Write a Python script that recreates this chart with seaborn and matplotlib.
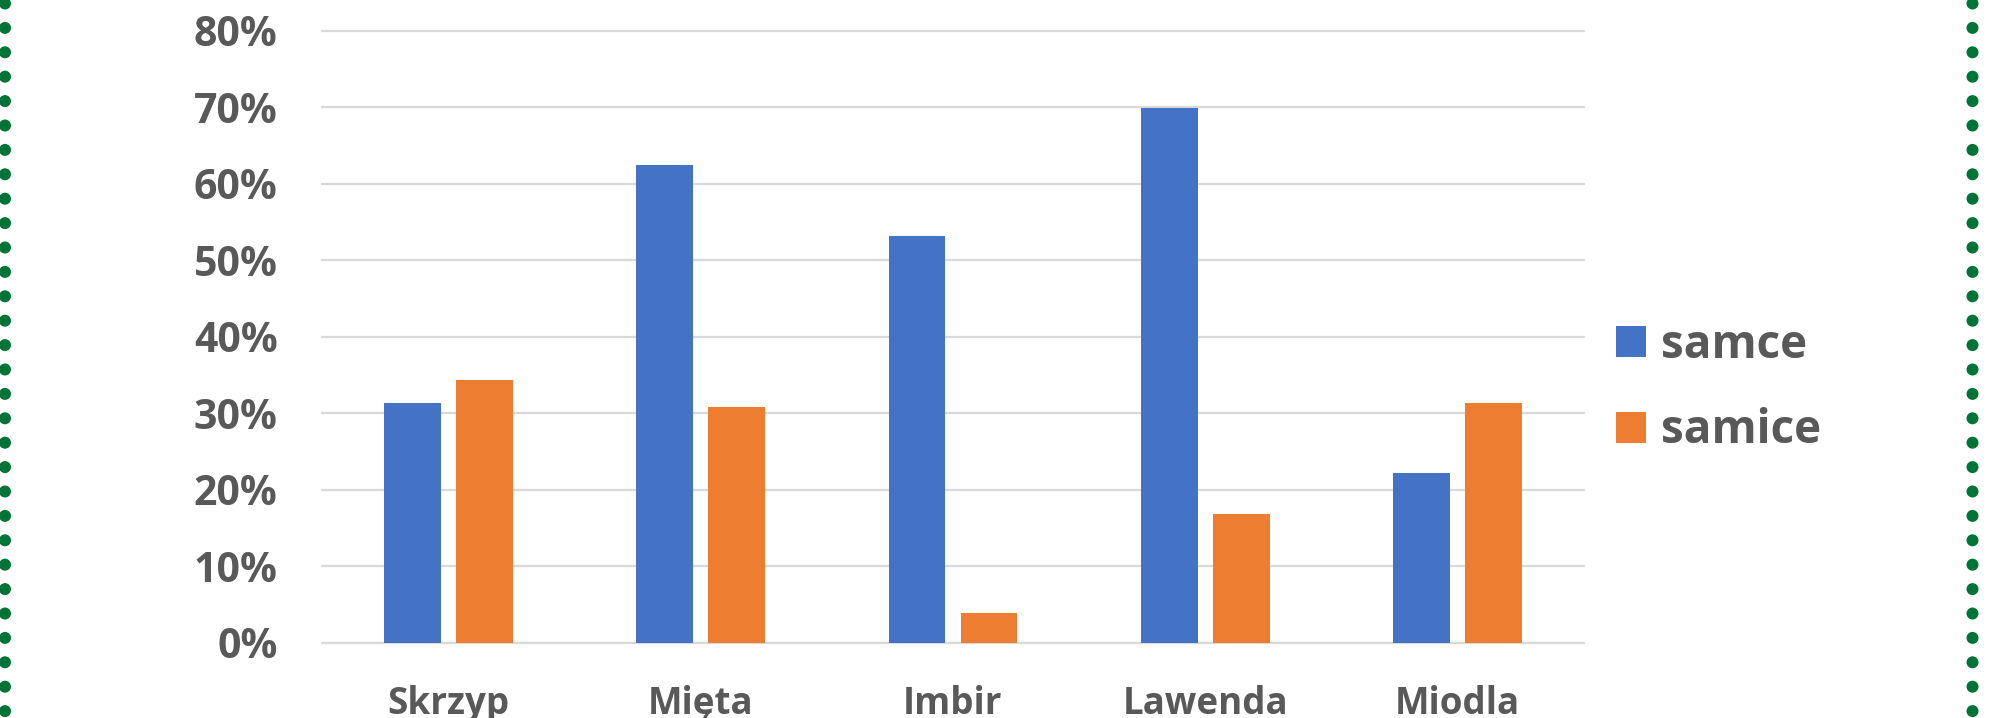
import matplotlib
matplotlib.use("Agg")
import matplotlib.pyplot as plt
from matplotlib.patches import Ellipse
from matplotlib.ticker import FuncFormatter
import pandas as pd
import seaborn as sns

# Data
categories = ["Skrzyp", "Mięta", "Imbir", "Lawenda", "Miodla"]
samce = [0.313, 0.624, 0.532, 0.699, 0.222]
samice = [0.344, 0.308, 0.039, 0.169, 0.314]
series_names = ["samce", "samice"]
y_ticks = [0.0, 0.1, 0.2, 0.3, 0.4, 0.5, 0.6, 0.7, 0.8]

colors = ["#4472C4", "#ED7D31"]
text_color = "#595959"
grid_color = "#D9D9D9"
border_color = "#007436"

df = pd.DataFrame({
    "kategoria": categories * 2,
    "udzial": samce + samice,
    "plec": [series_names[0]] * len(categories) + [series_names[1]] * len(categories),
})

sns.set_theme(style="white")
plt.rcParams["font.family"] = ["Open Sans", "DejaVu Sans"]
plt.rcParams["font.weight"] = "bold"

W, H = 2003, 718
fig = plt.figure(figsize=(W / 100, H / 100), dpi=100)
fig.patch.set_facecolor("white")

ax_left, ax_right = 322, 1584
ax_bottom, ax_top = 643, 30.5
ax = fig.add_axes([ax_left / W, (H - ax_bottom) / H,
                   (ax_right - ax_left) / W, (ax_bottom - ax_top) / H])

sns.barplot(data=df, x="kategoria", y="udzial", hue="plec",
            palette=colors, saturation=1, width=0.57, gap=0.21, linewidth=0,
            ax=ax, legend=True)

ax.set_xlim(-0.5, len(categories) - 0.5)
ax.set_ylim(0, 0.8)
ax.set_yticks(y_ticks)
ax.yaxis.set_major_formatter(FuncFormatter(lambda v, _: f"{v * 100:.0f}%"))
ax.set_xlabel("")
ax.set_ylabel("")

ax.grid(axis="y", color=grid_color, linewidth=1.6, clip_on=False)
ax.grid(axis="x", visible=False)
ax.set_axisbelow(True)
for side in ["top", "right", "left", "bottom"]:
    ax.spines[side].set_visible(False)
# baseline gridline at 0%
ax.axhline(0, color=grid_color, linewidth=1.6, zorder=0.5)

ax.tick_params(axis="y", length=0, pad=32, labelsize=29.5, labelcolor=text_color)
ax.tick_params(axis="x", length=0, pad=30, labelsize=26.5, labelcolor=text_color)
for lbl in ax.get_yticklabels() + ax.get_xticklabels():
    lbl.set_fontweight("bold")

# Legend on the right
handles, labels = ax.get_legend_handles_labels()
ax.legend_.remove()
leg = fig.legend(handles, labels, loc="center left",
                 bbox_to_anchor=(1616 / W, (H - 388) / H),
                 frameon=False, fontsize=33, handlelength=0.66,
                 handleheight=0.66, handletextpad=0.32, labelspacing=0.85,
                 borderpad=0, borderaxespad=0)
for t in leg.get_texts():
    t.set_color(text_color)
    t.set_fontweight("bold")

# Dotted green frame on the left and right edges
dot_d = 12
step = 24.4
y = 3.5
while y < H + dot_d:
    for xc in (5, 1972.5):
        fig.add_artist(Ellipse((xc / W, (H - y) / H), dot_d / W, dot_d / H,
                               transform=fig.transFigure, color=border_color,
                               lw=0))
    y += step

fig.savefig("out.png", dpi=100, facecolor="white")
